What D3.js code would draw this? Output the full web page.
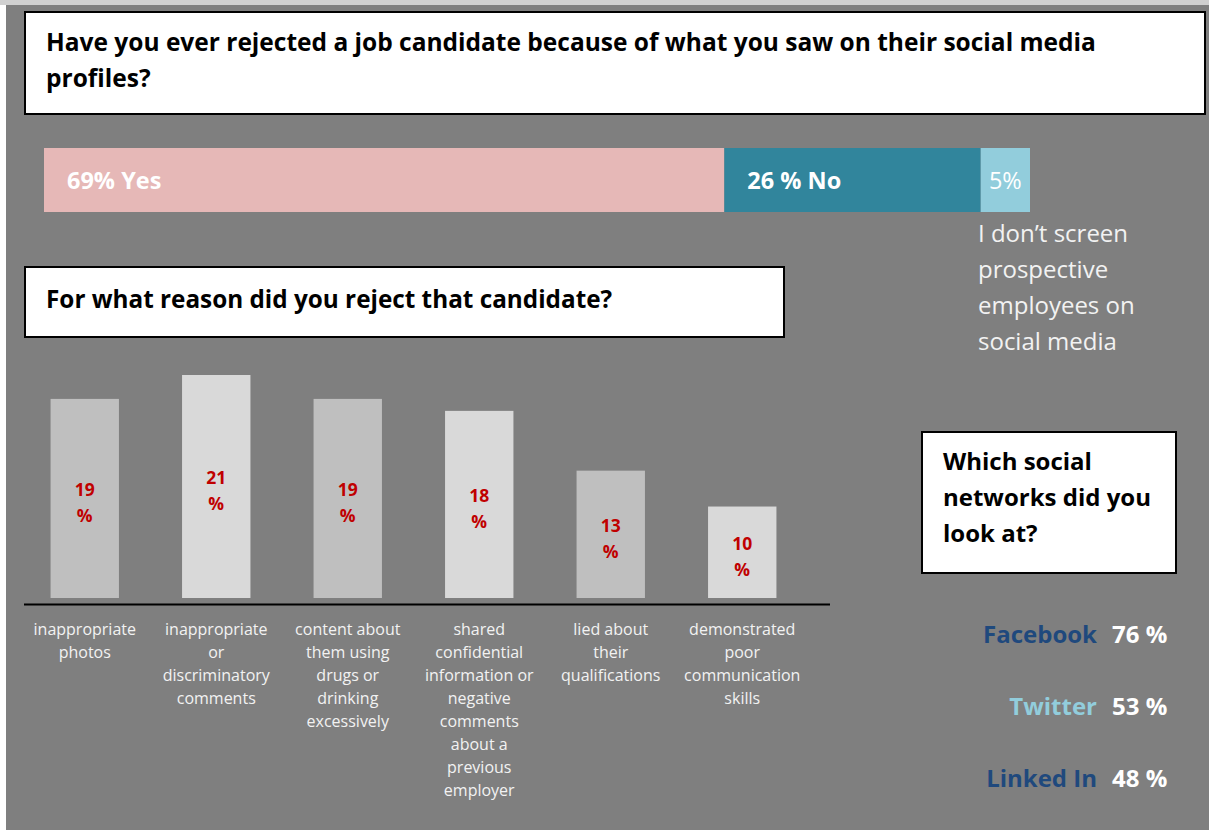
<!DOCTYPE html>
<html>
<head>
<meta charset="utf-8">
<script src="https://cdn.jsdelivr.net/npm/d3@7"></script>
<style>
  html, body { margin: 0; padding: 0; background: #ffffff; }
  svg { display: block; }
  text { font-family: "Open Sans", Lato, sans-serif; }
</style>
</head>
<body>
<svg id="chart" width="1209" height="830"></svg>
<script>
// Screening answers (stacked bar)
const screenLabels = ["69% Yes", "26 % No", "5%"];
const screenValues = [69, 26, 5];
const screenColors = ["#e6b8b7", "#31859c", "#92cddc"];

// Reasons for rejecting a candidate
const reasonLabels = [
  ["inappropriate", "photos"],
  ["inappropriate", "or", "discriminatory", "comments"],
  ["content about", "them using", "drugs or", "drinking", "excessively"],
  ["shared", "confidential", "information or", "negative", "comments", "about a", "previous", "employer"],
  ["lied about", "their", "qualifications"],
  ["demonstrated", "poor", "communication", "skills"]
];
const reasonValues = [19, 21, 19, 18, 13, 10];
const reasonColors = ["#bfbfbf", "#d9d9d9"];

// Social networks looked at
const networkNames = ["Facebook", "Twitter", "Linked In"];
const networkValues = [76, 53, 48];
const networkColors = ["#1f497d", "#92cddc", "#1f497d"];

const svg = d3.select("#chart");

// backdrop
svg.append("rect").attr("x", 0).attr("y", 0).attr("width", 1209).attr("height", 830).attr("fill", "#ffffff");
svg.append("rect").attr("x", 0).attr("y", 0).attr("width", 1209).attr("height", 5).attr("fill", "#d0d0d0");
svg.append("rect").attr("x", 6).attr("y", 5).attr("width", 1203).attr("height", 825).attr("fill", "#7f7f7f");

// question boxes
function questionBox(x, y, w, h, lines, tx, ty, lh, size) {
  svg.append("rect").attr("x", x).attr("y", y).attr("width", w).attr("height", h)
    .attr("fill", "#ffffff").attr("stroke", "#000000").attr("stroke-width", 2);
  const t = svg.append("text").attr("x", tx).attr("y", ty)
    .attr("font-size", size).attr("font-weight", "bold").attr("fill", "#000000");
  lines.forEach((s, i) => t.append("tspan").attr("x", tx).attr("dy", i === 0 ? 0 : lh).text(s));
}

questionBox(25, 12, 1180, 102,
  ["Have you ever rejected a job candidate because of what you saw on their social media", "profiles?"],
  46, 51, 36, 24.5);

// stacked bar of screening answers
const xStack = d3.scaleLinear().domain([0, 100]).range([44, 1030]);
let acc = 0;
const stack = screenValues.map((v, i) => { const s = { v, i, x0: acc, x1: acc + v }; acc += v; return s; });
svg.append("g").selectAll("rect").data(stack).join("rect")
  .attr("x", d => xStack(d.x0)).attr("y", 148)
  .attr("width", d => xStack(d.x1) - xStack(d.x0)).attr("height", 64)
  .attr("fill", d => screenColors[d.i]);
svg.append("g").selectAll("text").data(stack).join("text")
  .attr("x", d => d.i < 2 ? xStack(d.x0) + 23 : (xStack(d.x0) + xStack(d.x1)) / 2)
  .attr("text-anchor", d => d.i < 2 ? "start" : "middle")
  .attr("y", 181).attr("dy", "0.35em")
  .attr("font-size", 23.5).attr("font-weight", d => d.i < 2 ? "bold" : "normal")
  .attr("fill", "#ffffff").text(d => screenLabels[d.i]);

const note = svg.append("text").attr("x", 978).attr("y", 234)
  .attr("font-size", 24).attr("fill", "#f2f2f2");
["I don\u2019t screen", "prospective", "employees on", "social media"].forEach((s, i) =>
  note.append("tspan").attr("x", 978).attr("dy", i === 0 ? "0.35em" : 36).text(s));

questionBox(25, 267, 759, 70, ["For what reason did you reject that candidate?"], 46, 308, 0, 24.3);

// reasons column chart
const xBand = d3.scaleBand().domain(d3.range(reasonValues.length)).range([19, 808]).paddingInner(0.48).paddingOuter(0.24);
const yLin = d3.scaleLinear().domain([2.35, 21]).range([598, 375]);

svg.append("g").selectAll("rect").data(reasonValues).join("rect")
  .attr("x", (d, i) => xBand(i)).attr("width", xBand.bandwidth())
  .attr("y", d => yLin(d)).attr("height", d => yLin(2.35) - yLin(d))
  .attr("fill", (d, i) => reasonColors[i % 2]);

const valLabels = svg.append("g").selectAll("text").data(reasonValues).join("text")
  .attr("x", (d, i) => xBand(i) + xBand.bandwidth() / 2)
  .attr("y", d => (yLin(d) + yLin(2.35)) / 2)
  .attr("text-anchor", "middle").attr("font-size", 17.5).attr("font-weight", "bold").attr("fill", "#c00000");
valLabels.append("tspan").attr("dy", "-0.15em").text(d => d);
valLabels.append("tspan").attr("x", (d, i) => xBand(i) + xBand.bandwidth() / 2).attr("dy", 26).text("%");

// baseline
svg.append("line").attr("x1", 24).attr("x2", 830).attr("y1", 604.5).attr("y2", 604.5)
  .attr("stroke", "#000000").attr("stroke-width", 2);

// category labels
const catLabels = svg.append("g").selectAll("text").data(reasonLabels).join("text")
  .attr("x", (d, i) => xBand(i) + xBand.bandwidth() / 2)
  .attr("y", 629).attr("text-anchor", "middle").attr("font-size", 16).attr("fill", "#f2f2f2");
catLabels.each(function(lines, i) {
  const cx = xBand(i) + xBand.bandwidth() / 2;
  d3.select(this).selectAll("tspan").data(lines).join("tspan")
    .attr("x", cx).attr("dy", (s, j) => j === 0 ? "0.35em" : 23).text(s => s);
});

// social network box and figures
questionBox(922, 432, 254, 141, ["Which social", "networks did you", "look at?"], 943, 470, 36, 24);

const yNet = d3.scalePoint().domain(networkNames).range([635, 779]);
svg.append("g").selectAll("text").data(networkNames).join("text")
  .attr("x", 1097).attr("y", d => yNet(d)).attr("dy", "0.35em").attr("text-anchor", "end")
  .attr("font-size", 24).attr("font-weight", "bold")
  .attr("fill", (d, i) => networkColors[i]).text(d => d);
svg.append("g").selectAll("text").data(networkValues).join("text")
  .attr("x", 1112).attr("y", (d, i) => yNet(networkNames[i])).attr("dy", "0.35em")
  .attr("font-size", 24).attr("font-weight", "bold").attr("fill", "#ffffff").text(d => d + " %");
</script>
</body>
</html>
